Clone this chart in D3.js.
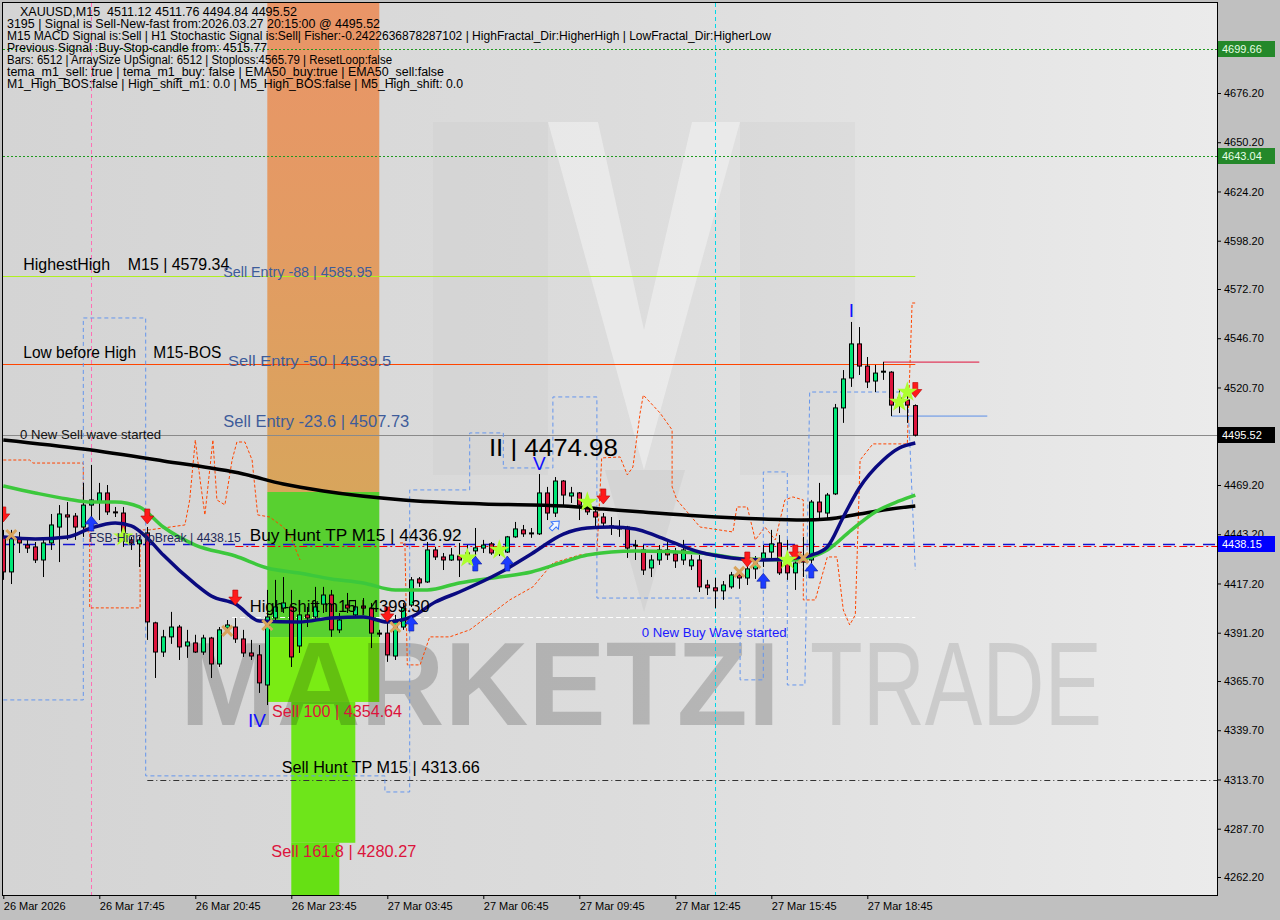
<!DOCTYPE html>
<html><head><meta charset="utf-8">
<script src="https://cdn.jsdelivr.net/npm/d3@7/dist/d3.min.js"></script>
<style>
html,body{margin:0;padding:0;background:#c0c0c0;}
svg{display:block;}
text{font-family:"Liberation Sans",Arial,sans-serif;white-space:pre;}
</style></head><body>
<svg id="chart" width="1280" height="920"></svg>
<script>
// ---------------- DATA ----------------
const headerLines = [
  "XAUUSD,M15  4511.12 4511.76 4494.84 4495.52",
  "3195 | Signal is Sell-New-fast from:2026.03.27 20:15:00 @ 4495.52",
  "M15 MACD Signal is:Sell | H1 Stochastic Signal is:Sell| Fisher:-0.2422636878287102 | HighFractal_Dir:HigherHigh | LowFractal_Dir:HigherLow",
  "Previous Signal :Buy-Stop-candle from: 4515.77",
  "Bars: 6512 | ArraySize UpSignal: 6512 | Stoploss:4565.79 | ResetLoop:false",
  "tema_m1_sell: true | tema_m1_buy: false | EMA50_buy:true | EMA50_sell:false",
  "M1_High_BOS:false | High_shift_m1: 0.0 | M5_High_BOS:false | M5_High_shift: 0.0"
];
const timeLabels = ["26 Mar 2026","26 Mar 17:45","26 Mar 20:45","26 Mar 23:45","27 Mar 03:45","27 Mar 06:45","27 Mar 09:45","27 Mar 12:45","27 Mar 15:45","27 Mar 18:45"];
const timeBars = [0,12,24,36,48,60,72,84,96,108];
const priceTicks = [4701.70,4676.20,4650.20,4624.20,4598.20,4572.70,4546.70,4520.70,4495.20,4469.20,4443.20,4417.20,4391.20,4365.70,4339.70,4313.70,4287.70,4262.20];

const candleOpen = [4441.8,4423.3,4441.2,4437.5,4436.5,4429.6,4438.6,4447.0,4453.4,4452.8,4447.0,4458.6,4460.2,4465.0,4455.0,4454.4,4440.2,4438.1,4443.9,4396.4,
4381.0,4389.0,4394.2,4384.2,4385.8,4381.0,4388.4,4374.7,4393.7,4394.2,4387.9,4380.5,4379.5,4363.6,4399.0,4404.2,4404.8,4384.2,4400.6,4399.5,
4406.3,4411.1,4392.7,4405.8,4400.6,4405.3,4404.2,4391.0,4391.0,4378.9,4394.2,4405.8,4419.6,4418.0,4434.9,4431.2,4429.6,4431.7,4431.7,4434.4,
4435.9,4438.1,4435.9,4433.8,4441.8,4445.5,4443.4,4443.4,4465.0,4454.4,4471.3,4463.4,4465.0,4458.6,4455.0,4452.3,4447.6,4446.5,4447.0,4437.5,
4434.9,4425.4,4429.6,4434.9,4432.8,4429.6,4426.5,4429.6,4416.4,4414.9,4413.3,4415.4,4421.7,4420.1,4424.9,4429.6,4433.8,4438.6,4428.0,4422.8,
4430.7,4429.6,4460.2,4454.4,4464.5,4509.9,4525.7,4543.7,4532.0,4524.1,4528.8,4528.8,4511.4,4514.1,4511.12];
const candleHigh = [4445.5,4445.5,4444.4,4440.2,4439.1,4440.2,4453.9,4458.6,4460.2,4454.4,4470.3,4479.8,4470.3,4469.2,4457.6,4457.6,4441.8,4441.8,4447.0,4397.0,
4392.7,4402.2,4395.3,4392.7,4390.1,4390.1,4389.0,4394.2,4397.9,4399.0,4392.7,4387.4,4384.7,4413.8,4419.1,4420.6,4413.8,4408.5,4404.8,4415.4,
4415.4,4413.8,4401.6,4412.2,4408.5,4409.5,4406.9,4392.7,4401.6,4400.6,4406.9,4420.6,4420.6,4439.1,4436.5,4433.3,4435.9,4438.6,4437.5,4446.5,
4440.2,4439.1,4438.6,4442.3,4449.7,4448.1,4446.5,4474.98,4468.2,4473.4,4471.8,4468.2,4465.5,4461.3,4457.1,4454.4,4452.3,4450.7,4447.6,4440.2,
4437.5,4432.3,4437.5,4440.2,4436.0,4440.2,4432.3,4432.3,4419.1,4420.1,4418.5,4423.3,4424.3,4427.0,4431.7,4437.5,4445.5,4442.8,4440.2,4433.3,
4441.8,4461.3,4470.3,4465.0,4512.0,4529.9,4555.3,4552.6,4536.8,4532.6,4534.2,4529.3,4519.3,4519.3,4511.76];
const candleLow = [4419.1,4416.9,4433.3,4433.3,4428.0,4420.6,4434.9,4428.5,4440.2,4440.2,4441.8,4448.1,4450.7,4453.4,4452.3,4436.5,4434.9,4425.9,4387.4,4367.3,
4378.4,4385.3,4376.8,4377.9,4380.5,4379.5,4367.3,4373.1,4391.6,4385.8,4378.4,4376.8,4359.4,4353.0,4397.9,4401.6,4373.1,4380.5,4394.2,4397.9,
4401.6,4389.0,4391.0,4401.6,4399.5,4401.6,4383.1,4389.0,4375.8,4376.8,4392.7,4404.8,4415.4,4417.5,4429.6,4424.3,4429.1,4420.6,4429.6,4428.5,
4433.3,4432.3,4431.7,4433.3,4441.3,4441.8,4441.3,4442.8,4450.7,4452.3,4458.6,4459.7,4450.7,4453.4,4447.0,4447.0,4442.8,4441.8,4430.7,4429.6,
4421.7,4420.6,4427.0,4429.6,4425.4,4427.0,4424.3,4412.7,4411.1,4404.2,4408.5,4414.4,4414.4,4416.4,4419.6,4425.9,4429.6,4421.7,4419.1,4413.8,
4420.6,4428.0,4450.7,4450.7,4463.9,4502.0,4521.0,4527.3,4520.4,4518.3,4524.7,4505.6,4507.2,4502.0,4494.84];
const candleClose = [4423.3,4441.8,4438.6,4435.9,4429.6,4438.6,4448.1,4453.9,4452.3,4447.0,4458.6,4461.3,4465.0,4455.0,4454.5,4440.2,4438.6,4440.2,4396.9,4381.0,
4389.0,4394.2,4383.7,4386.3,4381.0,4388.4,4374.7,4392.7,4395.3,4387.9,4380.5,4378.9,4364.7,4399.5,4404.8,4406.9,4378.4,4400.6,4399.0,4404.8,
4411.1,4392.7,4397.9,4404.2,4404.8,4404.2,4391.0,4390.5,4379.5,4397.9,4404.2,4419.1,4417.5,4434.9,4431.2,4429.6,4432.2,4429.6,4433.3,4436.0,
4437.5,4433.3,4434.4,4441.8,4446.0,4443.4,4443.9,4465.0,4454.4,4471.3,4463.9,4465.0,4458.6,4455.0,4452.3,4449.1,4447.0,4446.0,4435.9,4437.0,
4424.3,4429.6,4434.9,4432.3,4429.1,4434.9,4429.6,4415.4,4414.9,4413.3,4416.4,4421.7,4420.1,4424.9,4428.0,4433.3,4438.1,4422.8,4422.8,4428.0,
4428.5,4460.2,4455.0,4463.9,4509.9,4525.2,4543.7,4532.0,4523.6,4528.3,4529.3,4511.4,4515.1,4511.4,4495.52];

// moving averages (bar index, value)
const emaSlowBars = [0,10,20,30,35,40,50,60,70,75,80,87,95,100,103,107,110,114];
const emaSlow = [4493.0,4488.2,4481.9,4475.0,4469.7,4466.0,4461.3,4459.2,4458.1,4456.5,4454.9,4452.8,4451.2,4450.7,4451.2,4453.9,4456.0,4458.1];
const emaMidBars = [0,4,8,11,14,17,20,24,29,33,37,41,45,49,53,57,62,66,70,73,79,87,93,99,101,103,106,109,112,114];
const emaMid = [4468.7,4465.0,4461.8,4460.2,4460.2,4457.6,4447.0,4437.5,4431.7,4425.4,4422.7,4419.6,4417.5,4413.8,4413.8,4417.5,4420.6,4423.3,4428.5,4432.2,4434.4,4433.3,4430.1,4429.6,4431.2,4434.9,4445.4,4455.0,4460.8,4463.9];
const emaFastBars = [0,4,8,11,14,16,18,20,24,26,29,32,37,41,45,48,51,54,57,62,66,70,73,76,79,82,87,91,95,99,101,103,105,107,110,112,114];
const emaFast = [4441.7,4440.7,4441.7,4446.5,4449.1,4447.6,4441.2,4432.2,4416.9,4410.6,4406.4,4397.4,4396.9,4399.0,4399.5,4396.9,4399.5,4407.4,4412.7,4422.7,4432.8,4443.3,4446.5,4447.0,4446.0,4441.7,4433.8,4430.7,4429.6,4430.7,4432.2,4436.5,4452.3,4467.6,4482.4,4488.7,4491.4];

// channel lines (bar, price)
const orangeA = [[0,4482.4],[3.3,4482.4],[3.7,4480.8],[10,4480.8],[10,4447.0],[10.8,4443.9],[10.8,4404.3],[17.1,4404.3],[17.1,4445.5],[18.3,4445.5],[22.7,4448.1],[23.3,4461.3],[24,4493.0],[24.6,4471.9],[25.2,4453.4],[25.8,4477.1],[26.2,4493.0],[26.7,4461.3],[27.7,4458.7],[28.6,4482.4],[29.2,4491.9],[30.2,4491.9],[31.1,4482.4],[31.8,4453.4],[33.3,4452.3],[35,4447.0],[35.8,4442.8],[37.1,4429.6]];
const orangeB = [[49.6,4438.6],[50.2,4438.6],[50.5,4374.2],[52.1,4374.2],[53.3,4389.0],[55.8,4389.0],[58.3,4392.7],[63.3,4408.5],[66.2,4415.4],[68.7,4428.0],[72.1,4432.3],[74.2,4433.3],[74.8,4483.5],[77.1,4484.0],[78,4474.5],[78.7,4478.7],[79.6,4507.2],[80,4516.7],[82.1,4507.2],[83.6,4498.3],[83.6,4468.2],[84.2,4461.3],[87.1,4447.0],[91.2,4444.4],[91.7,4457.6],[93,4457.6],[94,4440.2],[95.2,4447.0],[96.5,4440.2],[97.7,4461.3],[98.7,4462.9],[100,4461.3],[100,4408.5],[101.5,4408.5],[103,4431.2],[104.2,4431.2],[105,4403.2],[105.8,4395.3],[106.5,4400.6],[107.1,4482.4],[108.7,4490.9],[113,4490.9],[113.6,4565.3],[114,4565.3]];
const blueStep = [[0,4355.7],[10,4355.7],[10,4557.4],[17.8,4557.4],[17.8,4315.6],[47.7,4315.6],[47.7,4307.1],[50.8,4307.1],[50.8,4466.6],[58.3,4466.6],[58.3,4496.7],[62.5,4496.7],[62.5,4478.2],[68.7,4478.2],[68.7,4515.7],[74.2,4515.7],[74.2,4409.5],[92.1,4409.5],[92.1,4366.3],[95,4366.3],[95,4476.1],[98,4476.1],[98,4363.6],[100.2,4363.6],[100.8,4518.3],[113,4518.3],[113.3,4493.0],[114,4424.3]];

// levels
const greenLevels = [4699.66, 4643.04];
const lastPrice = 4495.52;
const highestHigh = 4579.34;
const lowBeforeHigh = 4533.1;
const fsbHigh = 4438.15;
const buyHuntTP = 4436.92;
const highShift = 4399.30;
const sellHuntTP = 4313.66;
const shortRed = [[110,4534.1],[122,4534.1]];
const shortBlue = [[111,4505.6],[123,4505.6]];
const vLineBars = [11, 89];

// zones: [bar0, bar1, priceTop, priceBottom]
const orangeZone = [33, 47, 4740, 4465.5];
const greenZones = [[33,47,4465.5,4388.9],[33,47,4388.9,4354.64],[36,44,4354.64,4280.27],[36,42,4280.27,4240]];

// markers (bar, price)
const sellArrows = [[0,4453.4],[18,4452.3],[29,4409.5],[48,4400.6],[75,4462.9],[93,4429.6],[99,4433.3],[114,4519.1]];
const buyArrows = [[11,4449.1],[51,4396.3],[59,4428.0],[63,4428.0],[95,4418.9],[101,4424.3]];
const hollowArrows = [[69,4448.1]];
const stars = [[15,4441.8],[58,4430.7],[62,4434.9],[73,4460.2],[98,4429.6],[112,4513.0],[113,4518.3]];
const crosses = [[1,4442.8],[28,4392.2],[33,4395.3],[49,4394.2],[92,4423.3],[94,4428.0],[100,4430.7]];
const fractalMarks = [["V",67,4480.8],["I",106,4561.6],["IV",31.7,4345.1]];

// text annotations: [text, bar, price(center)]
const annotations = [
  ["HighestHigh    M15 | 4579.34", 2.5, 4585.9],
  ["Sell Entry -88 | 4585.95", 27.5, 4581.7],
  ["Low before High    M15-BOS", 2.5, 4539.4],
  ["Sell Entry -50 | 4539.5", 28.1, 4534.7],
  ["Sell Entry -23.6 | 4507.73", 27.5, 4503.0],
  ["0 New Sell wave started", 2.1, 4496.1],
  ["II | 4474.98", 60.7, 4489.3],
  ["Buy Hunt TP M15 | 4436.92", 30.8, 4442.8],
  ["FSB-HighToBreak | 4438.15", 10.7, 4441.7],
  ["High-shift m15 | 4399.30", 30.8, 4405.3],
  ["0 New Buy Wave started", 79.8, 4391.6],
  ["Sell 100 | 4354.64", 33.6, 4349.9],
  ["Sell Hunt TP M15 | 4313.66", 34.8, 4320.3],
  ["Sell 161.8 | 4280.27", 33.5, 4275.9]
];
const axisBoxes = [[4699.66,"g"],[4643.04,"g"],[4495.52,"k"],[4438.15,"b"]];

// ---------------- STYLES ----------------
const annStyle = [
  {s:16,c:"#000",w:206},{s:15,c:"#3e5c9a",w:149},{s:16,c:"#000",w:198},{s:15,c:"#3e5c9a",w:163},
  {s:16,c:"#3e5c9a",w:186},{s:13,c:"#111",w:141},{s:24,c:"#000",w:129},{s:17,c:"#000",w:212},
  {s:13,c:"#1f2a5a",w:152},{s:16,c:"#000",w:180},{s:13,c:"#1a1aff",w:145},{s:16,c:"#dc143c",w:130},
  {s:16,c:"#000",w:198},{s:16,c:"#dc143c",w:145}
];
const headerStyle = [{x:20,w:277},{x:7,w:373},{x:7,w:764},{x:7,w:260},{x:7,w:385},{x:7,w:437},{x:7,w:456}];
const greenZoneColors = ["#58d030","#7aec14","#6ee51a","#66e014"];
const boxColors = {g:["#24882a","#e6ffe6"],k:["#000000","#ffffff"],b:["#0000ff","#ffffff"]};

// ---------------- DRAW ----------------
const L=3,T=3,R=1217,B=895;
const x = d3.scaleLinear().domain([0,114]).range([3.3,915.3]);
const y = d3.scaleLinear().domain([4262.2,4676.2]).range([877,93]);
const svg = d3.select('#chart');
const defs = svg.append('defs');
defs.append('clipPath').attr('id','clip').append('rect').attr('x',L).attr('y',T).attr('width',R-L).attr('height',B-T);
const bgGrad = defs.append('linearGradient').attr('id','bgGrad').attr('x1',0).attr('x2',1).attr('y1',0).attr('y2',0);
bgGrad.selectAll('stop').data([[0,'#d4d4d4'],[0.5,'#dcdcdc'],[1,'#ebebeb']]).join('stop').attr('offset',d=>d[0]).attr('stop-color',d=>d[1]);
const orGrad = defs.append('linearGradient').attr('id','orGrad').attr('x1',0).attr('x2',0).attr('y1',0).attr('y2',1);
orGrad.selectAll('stop').data([[0,'#ea9468'],[0.5,'#e39b63'],[1,'#d8a55c']]).join('stop').attr('offset',d=>d[0]).attr('stop-color',d=>d[1]);

svg.append('rect').attr('width',1280).attr('height',920).attr('fill','#c0c0c0');
const plot = svg.append('g').attr('clip-path','url(#clip)');
plot.append('rect').attr('x',L).attr('y',T).attr('width',R-L).attr('height',B-T).attr('fill','url(#bgGrad)');

// watermark logo (decorative, subtle)
const wm = plot.append('g');
wm.append('rect').attr('x',433).attr('y',122).attr('width',115).attr('height',353).attr('fill','#c2c2c2').attr('opacity',0.18);
wm.append('rect').attr('x',740).attr('y',122).attr('width',115).attr('height',353).attr('fill','#c2c2c2').attr('opacity',0.18);
wm.append('polygon').attr('points','548,122 598,122 644,330 692,122 740,122 644,470').attr('fill','#f8f8f8').attr('opacity',0.45);
wm.append('polygon').attr('points','605,470 685,470 644,612').attr('fill','#bcbcbc').attr('opacity',0.25);

// zones
plot.append('rect').attr('x',x(orangeZone[0])).attr('width',x(orangeZone[1])-x(orangeZone[0]))
  .attr('y',y(orangeZone[2])).attr('height',y(orangeZone[3])-y(orangeZone[2])).attr('fill','url(#orGrad)');
plot.selectAll('.gz').data(greenZones).join('rect')
  .attr('x',d=>x(d[0])).attr('width',d=>x(d[1])-x(d[0])).attr('y',d=>y(d[2])).attr('height',d=>y(d[3])-y(d[2]))
  .attr('fill',(d,i)=>greenZoneColors[i]);

// brand text
plot.append('text').attr('x',180).attr('y',725).attr('font-size',118).attr('font-weight','bold')
  .attr('textLength',600).attr('lengthAdjust','spacingAndGlyphs').attr('fill','#000').attr('opacity',0.18).text('MARKETZI');
plot.append('text').attr('x',810).attr('y',725).attr('font-size',118).attr('font-family','"Liberation Sans Narrow","Liberation Sans",sans-serif')
  .attr('textLength',292).attr('lengthAdjust','spacingAndGlyphs').attr('fill','#000').attr('opacity',0.1).text('TRADE');

// vertical lines
plot.selectAll('.vl').data(vLineBars).join('line')
  .attr('x1',d=>Math.round(x(d))+0.5).attr('x2',d=>Math.round(x(d))+0.5).attr('y1',T).attr('y2',B)
  .attr('stroke',(d,i)=>i===0?'#ff6eb4':'#00d8e8').attr('stroke-dasharray','4,3');

function hline(p, x1, x2, color, dash, w){
  plot.append('line').attr('x1',x1).attr('x2',x2).attr('y1',Math.round(y(p))+0.5).attr('y2',Math.round(y(p))+0.5)
    .attr('stroke',color).attr('stroke-width',w||1).attr('stroke-dasharray',dash||null);
}
greenLevels.forEach(p=>hline(p,L,R,'#1f9a1f','2,2'));
hline(highestHigh, x(0)-1, x(114), '#b0f020');
hline(lowBeforeHigh, x(0)-1, x(114), '#ff4500');
hline(lastPrice, L, R, '#8a8a8a');
hline(fsbHigh, L, R, '#1414d0', '12,8', 1.5);
hline(buyHuntTP, x(29), R, '#ff0000', '8,3,2,3', 1.2);
hline(highShift, x(28.6), x(114), '#ffffff', '5,3');
hline(sellHuntTP, x(18), R, '#333333', '6,3,1,3');

const line = d3.line().x(d=>x(d[0])).y(d=>y(d[1]));
plot.append('path').datum(shortRed).attr('d',line).attr('stroke','#e0103a').attr('fill','none');
plot.append('path').datum(shortBlue).attr('d',line).attr('stroke','#5b8fe8').attr('fill','none');
[orangeA, orangeB].forEach(s=>plot.append('path').datum(s).attr('d',line).attr('fill','none')
  .attr('stroke','#ff4500').attr('stroke-width',1).attr('stroke-dasharray','3,2'));
plot.append('path').datum(blueStep).attr('d',line).attr('fill','none')
  .attr('stroke','#6495ed').attr('stroke-width',1).attr('stroke-dasharray','4,3');

// candles
const idx = d3.range(candleOpen.length);
const cg = plot.append('g');
cg.selectAll('.wick').data(idx).join('line')
  .attr('x1',i=>Math.round(x(i))+0.5).attr('x2',i=>Math.round(x(i))+0.5)
  .attr('y1',i=>y(candleHigh[i])).attr('y2',i=>y(candleLow[i])).attr('stroke','#000').attr('stroke-width',1);
cg.selectAll('.body').data(idx).join('rect')
  .attr('x',i=>Math.round(x(i))-1.5).attr('width',4)
  .attr('y',i=>y(Math.max(candleOpen[i],candleClose[i])))
  .attr('height',i=>Math.max(1,Math.abs(y(candleOpen[i])-y(candleClose[i]))))
  .attr('fill',i=>candleClose[i]>=candleOpen[i]?'#00e676':'#dc143c')
  .attr('stroke','#000').attr('stroke-width',1);

// moving averages
const ma = (bars, vals) => bars.map((b,i)=>[b,vals[i]]);
const curve = d3.line().x(d=>x(d[0])).y(d=>y(d[1])).curve(d3.curveMonotoneX);
plot.append('path').datum(ma(emaSlowBars,emaSlow)).attr('d',curve).attr('fill','none').attr('stroke','#000').attr('stroke-width',3.5);
plot.append('path').datum(ma(emaMidBars,emaMid)).attr('d',curve).attr('fill','none').attr('stroke','#3cc83c').attr('stroke-width',3.5);
plot.append('path').datum(ma(emaFastBars,emaFast)).attr('d',curve).attr('fill','none').attr('stroke','#0a0a80').attr('stroke-width',3.5);

// markers
const downArrow = "M-2.5,-8 L2.5,-8 L2.5,-1 L6.5,-1 L0,7 L-6.5,-1 L-2.5,-1 Z";
const upArrow = "M-2.5,8 L2.5,8 L2.5,1 L6.5,1 L0,-7 L-6.5,1 L-2.5,1 Z";
plot.selectAll('.sa').data(sellArrows).join('path').attr('d',downArrow)
  .attr('transform',d=>`translate(${x(d[0])},${y(d[1])})`).attr('fill','#ff1a1a').attr('stroke','#b30000').attr('stroke-width',0.6);
plot.selectAll('.ba').data(buyArrows).join('path').attr('d',upArrow)
  .attr('transform',d=>`translate(${x(d[0])},${y(d[1])})`).attr('fill','#1c3cff').attr('stroke','#0a1a99').attr('stroke-width',0.6);
plot.selectAll('.ha').data(hollowArrows).join('path').attr('d',upArrow)
  .attr('transform',d=>`translate(${x(d[0])},${y(d[1])}) rotate(45) scale(0.8)`).attr('fill','#eef4ff').attr('stroke','#3070ff').attr('stroke-width',1.2);
plot.selectAll('.cr').data(crosses).join('path').attr('d','M-5,-5L5,5M5,-5L-5,5')
  .attr('transform',d=>`translate(${x(d[0])},${y(d[1])})`).attr('stroke','#d9a35c').attr('stroke-width',3);
plot.selectAll('.st').data(stars).join('path').attr('d',d3.symbol(d3.symbolStar,130))
  .attr('transform',d=>`translate(${x(d[0])},${y(d[1])})`).attr('fill','#adff2f');

// fractal labels
plot.selectAll('.fr').data(fractalMarks).join('text')
  .attr('x',d=>x(d[1])).attr('y',d=>y(d[2])).attr('dy','0.36em').attr('text-anchor','middle')
  .attr('font-size',19).attr('fill','#1010ff').text(d=>d[0]);

// annotations
plot.selectAll('.an').data(annotations).join('text')
  .attr('x',d=>x(d[1])).attr('y',d=>y(d[2])).attr('dy','0.36em')
  .attr('font-size',(d,i)=>annStyle[i].s).attr('fill',(d,i)=>annStyle[i].c)
  .attr('textLength',(d,i)=>annStyle[i].w).attr('lengthAdjust','spacingAndGlyphs').text(d=>d[0]);

// header
svg.selectAll('.hd').data(headerLines).join('text')
  .attr('x',(d,i)=>headerStyle[i].x).attr('y',(d,i)=>16+12*i).attr('font-size',12.5).attr('fill','#000')
  .attr('textLength',(d,i)=>headerStyle[i].w).attr('lengthAdjust','spacingAndGlyphs').text(d=>d);

// frame
svg.append('rect').attr('x',L-0.5).attr('y',T-0.5).attr('width',R-L+1).attr('height',B-T+1).attr('fill','none').attr('stroke','#000');

// axes
const ay = svg.append('g').attr('transform',`translate(${R},0)`)
  .call(d3.axisRight(y).tickValues(priceTicks).tickSize(4).tickPadding(3).tickFormat(d=>d.toFixed(2)));
ay.select('.domain').remove();
ay.selectAll('text').attr('font-family','"DejaVu Sans",sans-serif').attr('font-size',11).attr('fill','#000');
ay.selectAll('line').attr('stroke','#000');
const ax = svg.append('g').attr('transform',`translate(0,${B})`)
  .call(d3.axisBottom(x).tickValues(timeBars).tickSize(4).tickPadding(3).tickFormat((d,i)=>timeLabels[i]));
ax.select('.domain').remove();
ax.selectAll('text').attr('text-anchor','start').attr('font-family','"DejaVu Sans",sans-serif').attr('font-size',11).attr('fill','#000');
ax.selectAll('line').attr('stroke','#000');

// price boxes on axis
const bx = svg.selectAll('.bx').data(axisBoxes).join('g').attr('transform',d=>`translate(${R+1},${Math.round(y(d[0]))})`);
bx.append('rect').attr('x',0).attr('y',-8).attr('width',57).attr('height',16).attr('fill',d=>boxColors[d[1]][0]);
bx.append('text').attr('x',4).attr('y',0).attr('dy','0.36em').attr('font-family','"DejaVu Sans",sans-serif')
  .attr('font-size',11).attr('fill',d=>boxColors[d[1]][1]).text(d=>d[0].toFixed(2));
</script>
</body></html>
